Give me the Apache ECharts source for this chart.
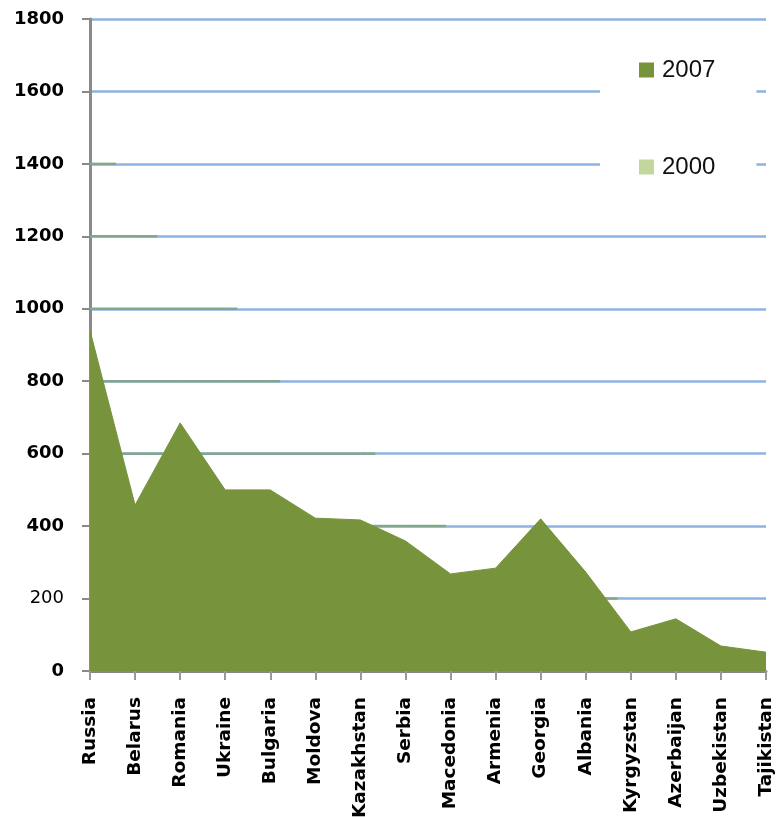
<!DOCTYPE html>
<html>
<head>
<meta charset="utf-8">
<script src="https://cdn.jsdelivr.net/npm/echarts@6/dist/echarts.min.js"></script>
<style>
  html, body { margin: 0; padding: 0; background: #fff; }
  #chart { width: 776px; height: 817px; }
</style>
</head>
<body>
<div id="chart"></div>
<script>
// ---- data ----
var categories = ['Russia', 'Belarus', 'Romania', 'Ukraine', 'Bulgaria', 'Moldova', 'Kazakhstan', 'Serbia',
                  'Macedonia', 'Armenia', 'Georgia', 'Albania', 'Kyrgyzstan', 'Azerbaijan', 'Uzbekistan', 'Tajikistan'];
var values2007 = [940, 458, 685, 500, 500, 422, 417, 359, 268, 284, 420, 273, 108, 144, 69, 52];
var values2000 = [1543, 1296, 1100, 1067, 820, 729, 680, 438, 396, 330, 300, 260, 175, 180, 120, 90];
var gridLevels = [200, 400, 600, 800, 1000, 1200, 1400, 1600, 1800];
var yTickLabels = ['0', '200', '400', '600', '800', '1000', '1200', '1400', '1600', '1800'];

var chart = echarts.init(document.getElementById('chart'), null, { renderer: 'canvas' });

var FONT = '"DejaVu Sans", Verdana, sans-serif';

var option = {
  animation: false,
  backgroundColor: '#ffffff',
  grid: { left: 90, right: 10, top: 19, bottom: 146, containLabel: false, outerBoundsMode: 'none' },
  legend: {
    orient: 'vertical',
    left: 600, top: 22,
    padding: [36, 41, 38, 39],
    backgroundColor: '#ffffff',
    itemGap: 73,
    itemWidth: 15, itemHeight: 15,
    icon: 'rect',
    data: ['2007', '2000'],
    textStyle: { fontFamily: '"Liberation Sans", Arial, sans-serif', fontSize: 24, color: '#111', lineHeight: 24, padding: [0, 0, 0, 3] }
  },
  xAxis: {
    type: 'category',
    data: categories,
    boundaryGap: false,
    axisLine: { lineStyle: { color: '#878787', width: 3 } },
    axisTick: { show: true, length: 9, interval: 0, lineStyle: { color: '#9a9a9a', width: 2 } },
    axisLabel: {
      interval: 0, rotate: 90, margin: 26,
      fontFamily: FONT, fontWeight: 'bold', fontSize: 18.5, color: '#000'
    },
    splitLine: { show: false }
  },
  yAxis: {
    type: 'value',
    min: 0, max: 1800, interval: 200,
    axisLine: { show: true, lineStyle: { color: '#8a8a8a', width: 3 } },
    axisTick: { show: true, length: 8, lineStyle: { color: '#8a8a8a', width: 2 } },
    axisLabel: {
      margin: 26,
      formatter: function (v) {
        var s = yTickLabels[Math.round(v / 200)];
        return v === 200 ? '{n|' + s + '}' : '{b|' + s + '}';
      },
      rich: {
        b: { fontFamily: FONT, fontWeight: 'bold', fontSize: 18, color: '#000' },
        n: { fontFamily: FONT, fontWeight: 'normal', fontSize: 18, color: '#000' }
      }
    },
    splitLine: { show: true, lineStyle: { color: '#8db3e2', width: 2.5 } }
  },
  series: [
    {
      name: '2000',
      type: 'line',
      data: values2000,
      z: 1,
      showSymbol: false,
      symbol: 'none',
      silent: true,
      itemStyle: { color: '#c3d69b' },
      lineStyle: { opacity: 0 },
      areaStyle: { color: '#ffffff', opacity: 0 }
    },
    {
      name: 'tint2000',
      type: 'custom',
      data: gridLevels.map(function (v) { return [0, v]; }),
      z: 2,
      silent: true,
      renderItem: function (params, api) {
        var level = api.value(1);
        var yPix = api.coord([0, level])[1];
        var pts = values2000.map(function (v, i) { return api.coord([i, v]); });
        var children = [];
        for (var i = 0; i < pts.length - 1; i++) {
          var a = pts[i], b = pts[i + 1];
          var va = values2000[i], vb = values2000[i + 1];
          var t0, t1;
          if (va >= level && vb >= level) { t0 = 0; t1 = 1; }
          else if (va >= level) { t0 = 0; t1 = (va - level) / (va - vb); }
          else if (vb >= level) { t0 = (level - va) / (vb - va); t1 = 1; }
          else continue;
          var x0 = a[0] + (b[0] - a[0]) * t0;
          var x1 = a[0] + (b[0] - a[0]) * t1;
          children.push({
            type: 'line',
            shape: { x1: x0, y1: yPix, x2: x1, y2: yPix },
            style: { stroke: '#84a68c', lineWidth: 2.5 }
          });
        }
        return { type: 'group', children: children };
      }
    },
    {
      name: '2007',
      type: 'line',
      data: values2007,
      z: 3,
      showSymbol: false,
      symbol: 'none',
      silent: true,
      itemStyle: { color: '#77933c' },
      lineStyle: { color: '#77933c', width: 1 },
      areaStyle: { color: '#77933c', opacity: 1 }
    }
  ]
};
chart.setOption(option);
</script>
</body>
</html>
